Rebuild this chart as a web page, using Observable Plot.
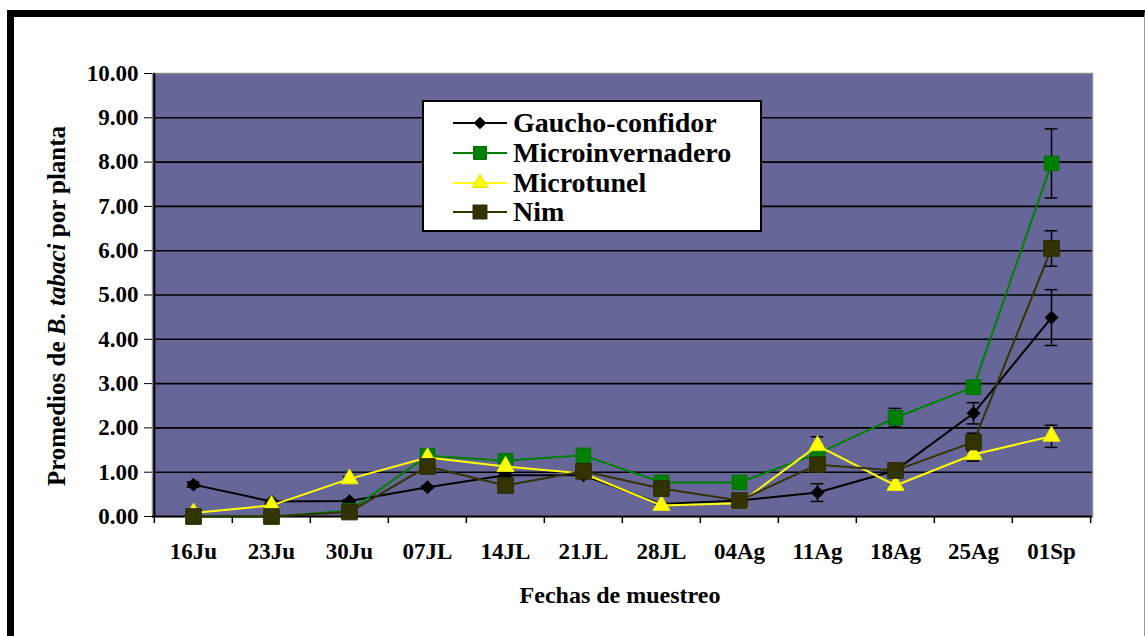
<!DOCTYPE html>
<html>
<head>
<meta charset="utf-8">
<script src="https://cdn.jsdelivr.net/npm/d3@7"></script>
<script src="https://cdn.jsdelivr.net/npm/@observablehq/plot@0.6"></script>
<style>
  html, body { margin: 0; padding: 0; background: #fff; }
  #wrap { position: relative; width: 1145px; height: 636px; overflow: hidden; background: #fff;
          font-family: "Liberation Serif", "Times New Roman", serif; font-weight: bold; }
  #border { position: absolute; left: 7px; top: 10px; width: 1130px; height: 700px;
            border-top: 7px solid #000; border-left: 7px solid #000; border-right: 1px solid #999; }
  #chart { position: absolute; left: 0; top: 0; }
  #ytitle { position: absolute; left: 57px; top: 306px; transform: translate(-50%, -50%) rotate(-90deg);
            white-space: nowrap; font-size: 25px; font-family: "Liberation Serif", serif; font-weight: bold; }
  #xtitle { position: absolute; left: 620px; top: 595px; transform: translate(-50%, -50%);
            white-space: nowrap; font-size: 24px; font-family: "Liberation Serif", serif; font-weight: bold; }
  #legend { position: absolute; left: 422px; top: 100px; width: 336px; height: 128px;
            background: #fff; border: 2px solid #000; }
  .lrow { position: absolute; left: 0; height: 30px; display: flex; align-items: center; }
  .lrow svg { margin-left: 29px; }
  .lrow span { margin-left: 6px; font-size: 28px; line-height: 30px;
               font-family: "Liberation Serif", serif; font-weight: bold; }
</style>
</head>
<body>
<div id="wrap">
  <div id="border"></div>
  <div id="chart"></div>
  <div id="ytitle">Promedios de <i>B. tabaci</i> por planta</div>
  <div id="xtitle">Fechas de muestreo</div>
  <div id="legend"></div>
</div>
<script>
// ---- data ----
const dates = ["16Ju","23Ju","30Ju","07JL","14JL","21JL","28JL","04Ag","11Ag","18Ag","25Ag","01Sp"];
const seriesNames = ["Gaucho-confidor","Microinvernadero","Microtunel","Nim"];
const gaucho    = [0.72,0.34,0.35,0.66,0.93,0.93,0.28,0.36,0.54,1.04,2.33,4.49];
const gauchoErr = [0.06,0.04,0.03,0.03,0.03,0.03,0.02,0.03,0.20,0.03,0.24,0.63];
const micro     = [0.00,0.00,0.13,1.37,1.26,1.38,0.77,0.77,1.42,2.23,2.92,7.97];
const microErr  = [0.00,0.00,0.02,0.05,0.05,0.05,0.03,0.03,0.05,0.21,0.10,0.78];
const tunel     = [0.08,0.25,0.85,1.33,1.13,0.97,0.25,0.30,1.60,0.70,1.40,1.81];
const tunelErr  = [0.02,0.03,0.05,0.05,0.05,0.08,0.05,0.05,0.20,0.05,0.15,0.25];
const nim       = [0.00,0.00,0.10,1.13,0.70,1.02,0.63,0.36,1.17,1.04,1.68,6.05];
const nimErr    = [0.00,0.00,0.02,0.05,0.03,0.05,0.03,0.03,0.05,0.04,0.20,0.40];
const yTicks = [0,1,2,3,4,5,6,7,8,9,10];

// ---- styles ----
const styles = [
  {color: "#000000", fill: "#000000", stroke: "#000000", symbol: "diamond2", r: 5.8},
  {color: "#008000", fill: "#008000", stroke: "#007000", symbol: "square",   r: 8.2},
  {color: "#ffff00", fill: "#ffff00", stroke: "#e6e600", symbol: "triangle", r: 6.4},
  {color: "#333300", fill: "#333300", stroke: "#2a2a00", symbol: "square",   r: 8.8}
];
const valueSets = [gaucho, micro, tunel, nim];
const errSets = [gauchoErr, microErr, tunelErr, nimErr];

const rows = [];
seriesNames.forEach((s, si) => dates.forEach((d, i) =>
  rows.push({series: s, si, date: d, value: valueSets[si][i], err: errSets[si][i]})));

const W = 1145, H = 636;
const mL = 152, mR = 53, mT = 73, mB = 120;
const bw = (W - mL - mR) / dates.length;

const marks = [
  Plot.frame({fill: "#666699"}),
  Plot.ruleY(yTicks.filter(t => t > 0 && t < 10), {stroke: "#000", strokeWidth: 1.6}),
  Plot.frame({stroke: "#8c8c8c", strokeWidth: 1.5}),
  Plot.ruleY([0], {stroke: "#000", strokeWidth: 2}),
  Plot.ruleX([dates[0]], {dx: -bw / 2, stroke: "#000", strokeWidth: 2}),
  Plot.ruleX(dates, {dx: -bw / 2, y1: 0, y2: -0.16, stroke: "#000", strokeWidth: 1.5}),
  Plot.ruleX([dates[dates.length - 1]], {dx: bw / 2, y1: 0, y2: -0.16, stroke: "#000", strokeWidth: 1.5}),
  // error bars
  Plot.ruleX(rows.filter(d => d.err > 0), {x: "date", y1: d => d.value - d.err, y2: d => d.value + d.err, stroke: "#000", strokeWidth: 1.5}),
  Plot.tickY(rows.filter(d => d.err > 0), {x: "date", y: d => d.value - d.err, insetLeft: (bw - 13) / 2, insetRight: (bw - 13) / 2, stroke: "#000", strokeWidth: 1.5}),
  Plot.tickY(rows.filter(d => d.err > 0), {x: "date", y: d => d.value + d.err, insetLeft: (bw - 13) / 2, insetRight: (bw - 13) / 2, stroke: "#000", strokeWidth: 1.5})
];
seriesNames.forEach((s, si) => {
  const data = rows.filter(d => d.si === si);
  const st = styles[si];
  marks.push(Plot.line(data, {x: "date", y: "value", stroke: st.color, strokeWidth: 2}));
  marks.push(Plot.dot(data, {x: "date", y: "value", symbol: st.symbol, r: st.r, fill: st.fill, stroke: st.stroke, strokeWidth: 1}));
});

const chart = Plot.plot({
  width: W, height: H,
  marginLeft: mL, marginRight: mR, marginTop: mT, marginBottom: mB,
  style: {fontFamily: '"Liberation Serif", "Times New Roman", serif', fontSize: "23px", fontWeight: "bold", background: "transparent", color: "#000"},
  x: {type: "band", domain: dates, padding: 0, tickSize: 0, tickPadding: 26, label: null},
  y: {domain: [0, 10], ticks: yTicks, tickFormat: d => d.toFixed(2), tickSize: 8, tickPadding: 6, label: null},
  marks
});
document.getElementById("chart").appendChild(chart);

// ---- legend ----
const legend = d3.select("#legend");
const rowTops = [6, 36, 66, 95];
seriesNames.forEach((s, si) => {
  const st = styles[si];
  const row = legend.append("div").attr("class", "lrow").style("top", rowTops[si] + "px");
  const svg = row.append("svg").attr("width", 54).attr("height", 30);
  svg.append("line").attr("x1", 0).attr("x2", 54).attr("y1", 15).attr("y2", 15)
    .attr("stroke", st.color).attr("stroke-width", 2);
  const sym = {diamond2: d3.symbolDiamond2, square: d3.symbolSquare, triangle: d3.symbolTriangle}[st.symbol];
  svg.append("path").attr("transform", "translate(27,15)")
    .attr("d", d3.symbol(sym, Math.PI * st.r * st.r * 0.8)())
    .attr("fill", st.fill).attr("stroke", st.stroke);
  row.append("span").text(s);
});
</script>
</body>
</html>
